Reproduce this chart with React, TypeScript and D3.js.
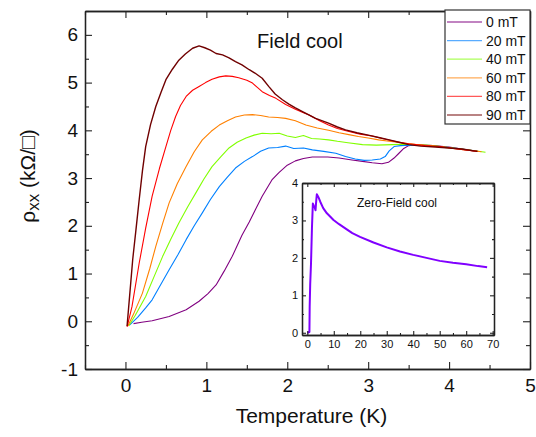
import { useEffect, useRef } from "react";
import * as d3 from "d3";

type Pt = [number, number];

// field-cooled curves, T (K) vs rho_xx (kOhm/sq)
const fc0: Pt[] = [
  [0.1, -0.05], [0.2, -0.02], [0.33, 0.01], [0.54, 0.1], [0.75, 0.24], [0.91, 0.42],
  [1.02, 0.58], [1.12, 0.76], [1.22, 1.05], [1.32, 1.36], [1.44, 1.8], [1.53, 2.08],
  [1.61, 2.35], [1.69, 2.62], [1.81, 2.96], [1.9, 3.12], [2.0, 3.27], [2.1, 3.36],
  [2.2, 3.41], [2.31, 3.44], [2.5, 3.44], [2.64, 3.42], [2.8, 3.38], [2.93, 3.35],
  [3.05, 3.32], [3.17, 3.3], [3.25, 3.33], [3.32, 3.42], [3.38, 3.52], [3.44, 3.62],
  [3.5, 3.68], [3.6, 3.7], [3.8, 3.68], [4.0, 3.65], [4.2, 3.6], [4.35, 3.56],
];
const fc20: Pt[] = [
  [0.05, -0.08], [0.15, 0.08], [0.25, 0.28], [0.33, 0.45], [0.44, 0.78], [0.54, 1.08],
  [0.65, 1.4], [0.75, 1.71], [0.85, 2.0], [0.95, 2.27], [1.05, 2.55], [1.16, 2.82],
  [1.26, 3.02], [1.36, 3.21], [1.47, 3.35], [1.57, 3.45], [1.67, 3.56], [1.77, 3.63],
  [1.88, 3.64], [1.98, 3.67], [2.08, 3.62], [2.2, 3.63], [2.31, 3.59], [2.45, 3.56],
  [2.6, 3.52], [2.72, 3.45], [2.84, 3.4], [2.95, 3.37], [3.05, 3.38], [3.15, 3.4],
  [3.21, 3.45], [3.26, 3.57], [3.32, 3.66], [3.4, 3.68], [3.5, 3.69], [3.7, 3.68],
  [3.9, 3.66], [4.1, 3.62], [4.35, 3.56],
];
const fc40: Pt[] = [
  [0.04, -0.1], [0.12, 0.12], [0.25, 0.52], [0.35, 0.92], [0.46, 1.36], [0.56, 1.72],
  [0.66, 2.06], [0.77, 2.4], [0.87, 2.69], [0.97, 2.98], [1.07, 3.24], [1.18, 3.45],
  [1.28, 3.63], [1.38, 3.75], [1.49, 3.84], [1.59, 3.9], [1.69, 3.94], [1.8, 3.93],
  [1.9, 3.94], [2.0, 3.88], [2.1, 3.85], [2.2, 3.89], [2.3, 3.83], [2.4, 3.82],
  [2.51, 3.8], [2.62, 3.77], [2.75, 3.74], [2.93, 3.7], [3.1, 3.69], [3.3, 3.7],
  [3.45, 3.71], [3.6, 3.7], [3.8, 3.68], [4.0, 3.64], [4.2, 3.6], [4.45, 3.54],
];
const fc60: Pt[] = [
  [0.03, -0.1], [0.1, 0.15], [0.21, 0.59], [0.3, 1.1], [0.375, 1.57], [0.46, 2.05],
  [0.54, 2.48], [0.64, 2.88], [0.75, 3.24], [0.85, 3.55], [0.95, 3.8], [1.06, 3.98],
  [1.16, 4.11], [1.26, 4.2], [1.36, 4.28], [1.47, 4.32], [1.57, 4.33], [1.67, 4.31],
  [1.77, 4.28], [1.88, 4.27], [1.98, 4.25], [2.1, 4.2], [2.23, 4.11], [2.37, 4.05],
  [2.51, 4.0], [2.64, 3.95], [2.76, 3.91], [2.88, 3.87], [3.0, 3.84], [3.13, 3.8],
  [3.26, 3.77], [3.4, 3.74], [3.6, 3.7], [3.8, 3.67], [4.0, 3.63], [4.2, 3.59], [4.4, 3.55],
];
const fc80: Pt[] = [
  [0.02, -0.12], [0.08, 0.3], [0.17, 1.22], [0.25, 1.95], [0.33, 2.62], [0.42, 3.2],
  [0.5, 3.66], [0.56, 4.0], [0.62, 4.29], [0.68, 4.52], [0.75, 4.71], [0.83, 4.84],
  [0.91, 4.92], [0.99, 5.0], [1.07, 5.07], [1.16, 5.12], [1.24, 5.14], [1.32, 5.13],
  [1.4, 5.1], [1.5, 5.05], [1.57, 4.99], [1.63, 4.9], [1.69, 4.81], [1.78, 4.73],
  [1.86, 4.67], [1.98, 4.54], [2.1, 4.44], [2.2, 4.37], [2.27, 4.32], [2.4, 4.2],
  [2.51, 4.11], [2.62, 4.04], [2.75, 3.98], [2.9, 3.92], [3.05, 3.88], [3.2, 3.82],
  [3.35, 3.76], [3.5, 3.72], [3.7, 3.68], [3.9, 3.66], [4.1, 3.61], [4.35, 3.56],
];
const fc90: Pt[] = [
  [0.02, -0.1], [0.05, 0.5], [0.09, 1.3], [0.13, 1.92], [0.17, 2.55], [0.21, 3.15],
  [0.25, 3.66], [0.31, 4.12], [0.375, 4.5], [0.44, 4.8], [0.5, 5.06], [0.58, 5.28],
  [0.66, 5.47], [0.74, 5.6], [0.83, 5.72], [0.91, 5.77], [0.98, 5.73], [1.05, 5.68],
  [1.12, 5.61], [1.2, 5.58], [1.28, 5.52], [1.36, 5.44], [1.44, 5.37], [1.53, 5.27],
  [1.6, 5.2], [1.69, 5.09], [1.77, 4.92], [1.85, 4.76], [1.94, 4.64], [2.02, 4.55],
  [2.1, 4.47], [2.2, 4.38], [2.35, 4.25], [2.51, 4.15], [2.62, 4.07], [2.72, 4.01],
  [2.86, 3.95], [3.0, 3.9], [3.13, 3.85], [3.26, 3.8], [3.38, 3.75], [3.5, 3.7],
  [3.65, 3.67], [3.83, 3.65], [4.0, 3.63], [4.16, 3.61], [4.35, 3.56],
];

const fields = ["0 mT", "20 mT", "40 mT", "60 mT", "80 mT", "90 mT"];
const colors = ["#800080", "#0080ff", "#80ff00", "#ff8000", "#ff0000", "#700000"];
const series = [fc0, fc20, fc40, fc60, fc80, fc90];

// zero-field cool, inset
const zfc: Pt[] = [
  [0, 0], [0.8, 0.02], [0.9, 0.7], [1.1, 1.3], [1.4, 1.85], [1.77, 2.83], [2.1, 3.45],
  [2.4, 3.4], [2.76, 3.36], [3.1, 3.27], [3.4, 3.55], [3.6, 3.7], [4.2, 3.62], [4.9, 3.5],
  [6, 3.33], [7.4, 3.19], [9.9, 3.01], [12, 2.9], [14.9, 2.76], [17, 2.66], [19.9, 2.56],
  [25, 2.41], [30, 2.28], [35, 2.17], [40, 2.08], [45, 2.0], [50, 1.92], [55, 1.87],
  [60, 1.83], [64.5, 1.78], [67.9, 1.75],
];

const xTicks = [0, 1, 2, 3, 4, 5];
const yTicks = [-1, 0, 1, 2, 3, 4, 5, 6];
const insetXTicks = [0, 10, 20, 30, 40, 50, 60, 70];
const insetYTicks = [0, 1, 2, 3, 4];

const W = 536;
const H = 437;
const FONT = "'Liberation Sans', Arial, sans-serif";

function frame(
  g: d3.Selection<SVGGElement, unknown, null, undefined>,
  x: d3.ScaleLinear<number, number>,
  y: d3.ScaleLinear<number, number>,
  xt: number[],
  yt: number[],
  xMinor: number[],
  yMinor: number[],
  major: number,
  minor: number,
  fontSize: number,
  xPad: number,
  yPad: number
) {
  const [x0, x1] = x.range();
  const [y0, y1] = y.range();
  const fmt = (d: d3.NumberValue) => String(d); // plain hyphen for negatives
  const add = (axis: d3.Axis<d3.NumberValue>, tr: string) =>
    g.append("g").attr("transform", tr).call(axis as any);

  const axes = [
    add(d3.axisBottom(x).tickValues(xt).tickSize(-major).tickSizeOuter(0).tickPadding(xPad).tickFormat(fmt), `translate(0,${y0})`),
    add(d3.axisBottom(x).tickValues(xMinor).tickSize(-minor).tickSizeOuter(0).tickFormat(() => ""), `translate(0,${y0})`),
    add(d3.axisTop(x).tickValues(xt).tickSize(-major).tickSizeOuter(0).tickFormat(() => ""), `translate(0,${y1})`),
    add(d3.axisTop(x).tickValues(xMinor).tickSize(-minor).tickSizeOuter(0).tickFormat(() => ""), `translate(0,${y1})`),
    add(d3.axisLeft(y).tickValues(yt).tickSize(-major).tickSizeOuter(0).tickPadding(yPad).tickFormat(fmt), `translate(${x0},0)`),
    add(d3.axisLeft(y).tickValues(yMinor).tickSize(-minor).tickSizeOuter(0).tickFormat(() => ""), `translate(${x0},0)`),
    add(d3.axisRight(y).tickValues(yt).tickSize(-major).tickSizeOuter(0).tickFormat(() => ""), `translate(${x1},0)`),
    add(d3.axisRight(y).tickValues(yMinor).tickSize(-minor).tickSizeOuter(0).tickFormat(() => ""), `translate(${x1},0)`),
  ];
  axes.forEach((a) => {
    a.selectAll("path.domain").attr("stroke", "#222").attr("stroke-width", 1.3);
    a.selectAll("line").attr("stroke", "#222").attr("stroke-width", 1.1);
    a.selectAll("text").attr("font-family", FONT).attr("font-size", fontSize).attr("fill", "#111");
    a.attr("font-size", null).attr("font-family", null);
  });
}

export default function App() {
  const ref = useRef<SVGSVGElement>(null);

  useEffect(() => {
    const svg = d3.select(ref.current);
    svg.selectAll("*").remove();

    // main panel
    const x = d3.scaleLinear().domain([-0.5, 5]).range([85, 530]);
    const y = d3.scaleLinear().domain([-1, 6.5]).range([369, 11]);

    const main = svg.append("g");
    const line = d3
      .line<Pt>()
      .x((d) => x(d[0]))
      .y((d) => y(d[1]));

    series.forEach((s, i) => {
      main
        .append("path")
        .datum(s)
        .attr("fill", "none")
        .attr("stroke", colors[i])
        .attr("stroke-width", i === 5 ? 1.4 : 1.1)
        .attr("stroke-linejoin", "round")
        .attr("d", line);
    });

    frame(
      main,
      x,
      y,
      xTicks,
      yTicks,
      d3.range(-0.5, 5.01, 0.5).filter((v) => !xTicks.includes(v)),
      d3.range(-1, 6.51, 0.5).filter((v) => !yTicks.includes(v)),
      7,
      4,
      19,
      10,
      7
    );

    main
      .append("text")
      .attr("x", 257)
      .attr("y", 48)
      .attr("font-family", FONT)
      .attr("font-size", 20)
      .attr("fill", "#111")
      .text("Field cool");

    // axis titles
    main
      .append("text")
      .attr("x", d3.mean(x.range())! + 4)
      .attr("y", 423)
      .attr("text-anchor", "middle")
      .attr("font-family", FONT)
      .attr("font-size", 21)
      .attr("fill", "#111")
      .text("Temperature (K)");

    const yl = main
      .append("text")
      .attr("transform", `translate(35,176) rotate(-90)`)
      .attr("text-anchor", "middle")
      .attr("font-family", FONT)
      .attr("font-size", 21)
      .attr("fill", "#111");
    yl.append("tspan").text("ρ");
    yl.append("tspan").attr("font-size", 17).attr("dy", 4).text("xx");
    yl.append("tspan").attr("dy", -4).text(" (kΩ/□)");

    // legend
    const lg = main.append("g");
    lg.append("rect")
      .attr("x", 445)
      .attr("y", 10)
      .attr("width", 85)
      .attr("height", 114)
      .attr("fill", "white")
      .attr("stroke", "#333")
      .attr("stroke-width", 1.2);
    fields.forEach((f, i) => {
      const yy = 22 + i * 18.6;
      lg.append("line")
        .attr("x1", 447)
        .attr("x2", 482)
        .attr("y1", yy)
        .attr("y2", yy)
        .attr("stroke", colors[i])
        .attr("stroke-opacity", 0.65)
        .attr("stroke-width", 1.3);
      lg.append("text")
        .attr("x", 486)
        .attr("y", yy + 5)
        .attr("font-family", FONT)
        .attr("font-size", 14)
        .attr("fill", "#111")
        .text(f);
    });

    // inset
    const ix = d3.scaleLinear().domain([-2, 70.5]).range([302, 494]);
    const iy = d3.scaleLinear().domain([-0.06, 4]).range([335, 183]);
    const inset = svg.append("g");
    inset
      .append("rect")
      .attr("x", 302)
      .attr("y", 183)
      .attr("width", 192)
      .attr("height", 152)
      .attr("fill", "white");

    inset
      .append("path")
      .datum(zfc)
      .attr("fill", "none")
      .attr("stroke", "#8000ff")
      .attr("stroke-width", 2)
      .attr("stroke-linejoin", "round")
      .attr(
        "d",
        d3
          .line<Pt>()
          .x((d) => ix(d[0]))
          .y((d) => iy(d[1]))
      );

    frame(
      inset,
      ix,
      iy,
      insetXTicks,
      insetYTicks,
      d3.range(5, 70, 10),
      d3.range(0.5, 4, 1),
      4,
      2,
      11,
      5,
      4
    );

    inset
      .append("text")
      .attr("x", 357)
      .attr("y", 207)
      .attr("font-family", FONT)
      .attr("font-size", 12)
      .attr("fill", "#111")
      .text("Zero-Field cool");
  }, []);

  return (
    <svg
      ref={ref}
      width={W}
      height={H}
      style={{ position: "absolute", left: 0, top: 0, background: "white" }}
    />
  );
}
